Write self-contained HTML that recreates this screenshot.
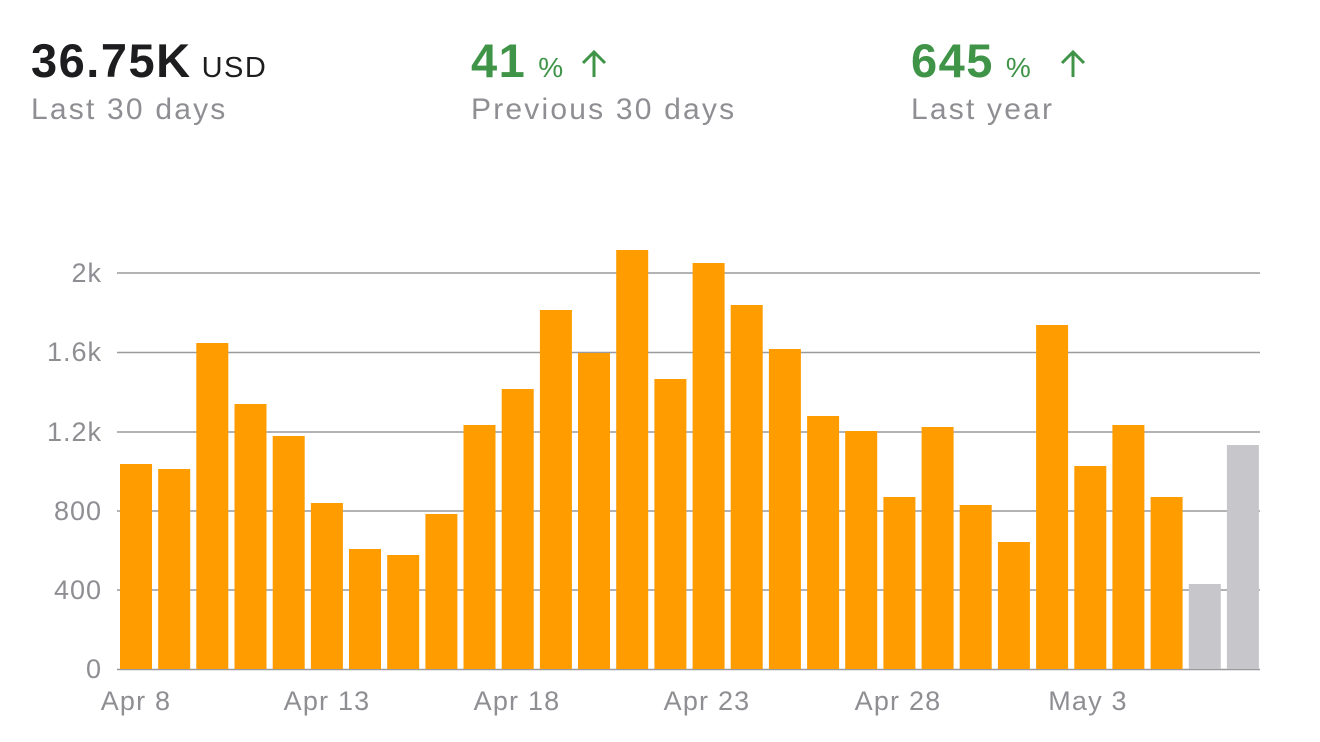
<!DOCTYPE html>
<html><head><meta charset="utf-8"><style>
html,body{margin:0;padding:0;background:#fff;width:1320px;height:742px;overflow:hidden}
</style></head><body>
<svg width="1320" height="742" xmlns="http://www.w3.org/2000/svg" font-family="Liberation Sans, sans-serif">
<g font-size="47" font-weight="bold" letter-spacing="1.5">
<text x="31" y="77" fill="#1d1d1f">36.75K<tspan font-size="29" font-weight="normal" dx="10" letter-spacing="1.5">USD</tspan></text>
<text x="471" y="77" fill="#3f9448">41<tspan font-size="28" font-weight="normal" dx="12">%</tspan></text>
<text x="911" y="77" fill="#3f9448">645<tspan font-size="28" font-weight="normal" dx="12">%</tspan></text>
</g>
<g stroke="#3f9448" stroke-width="3" fill="none">
<path d="M594 77V52M583 63l11-11 11 11"/>
<path d="M1073 77V52M1062 63l11-11 11 11"/>
</g>
<g font-size="30" fill="#8e8e93" letter-spacing="2.2">
<text x="31" y="119">Last 30 days</text>
<text x="471" y="119">Previous 30 days</text>
<text x="911" y="119">Last year</text>
</g>
<g stroke="#9a9a9e" stroke-width="1.5">
<line x1="117" x2="1260" y1="273" y2="273"/>
<line x1="117" x2="1260" y1="352.5" y2="352.5"/>
<line x1="117" x2="1260" y1="432" y2="432"/>
<line x1="117" x2="1260" y1="511" y2="511"/>
<line x1="117" x2="1260" y1="590" y2="590"/>
<line x1="117" x2="1260" y1="669.5" y2="669.5"/>
</g>
<g font-size="27" fill="#8e8e93" text-anchor="end" letter-spacing="1">
<text x="102" y="282">2k</text>
<text x="102" y="361">1.6k</text>
<text x="102" y="441">1.2k</text>
<text x="102" y="520">800</text>
<text x="102" y="599">400</text>
<text x="102" y="678">0</text>
</g>
<g id="bars"></g>
<g font-size="27" fill="#8e8e93" text-anchor="middle" letter-spacing="1.2">
<text x="136" y="710">Apr 8</text>
<text x="327" y="710">Apr 13</text>
<text x="517" y="710">Apr 18</text>
<text x="707" y="710">Apr 23</text>
<text x="898" y="710">Apr 28</text>
<text x="1088" y="710">May 3</text>
</g>
</svg>
<script>
var tops=[464,469,343,404,436,503,549,555,514,425,389,310,353,250,379,263,305,349,416,431,497,427,505,542,325,466,425,497,584,445];
var g=document.getElementById('bars'),s='';
for(var i=0;i<30;i++){var x=120+i*38.17;s+='<rect x="'+x.toFixed(1)+'" y="'+tops[i]+'" width="32" height="'+(669-tops[i])+'" fill="'+(i>=28?'#c7c6cb':'#ff9d00')+'"/>';}
g.innerHTML=s;
</script>
</body></html>
